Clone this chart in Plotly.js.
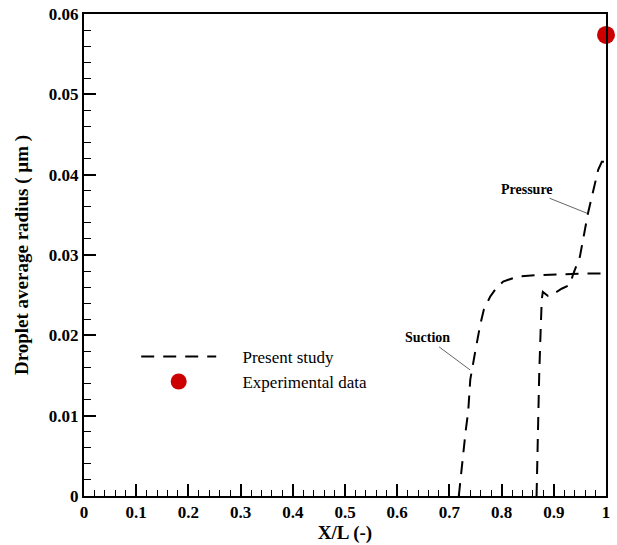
<!DOCTYPE html>
<html>
<head>
<meta charset="utf-8">
<script src="https://cdn.plot.ly/plotly-3.0.1.min.js"></script>
<style>html,body{margin:0;padding:0;background:#fff;}#chart{width:617px;height:545px;}</style>
</head>
<body>
<div id="chart"></div>
<script>
// Suction side curve
const suctionX = [0.718, 0.724, 0.731, 0.736, 0.740, 0.749, 0.759, 0.766, 0.778, 0.790, 0.803, 0.830, 0.870, 0.920, 0.960, 1.000];
const suctionY = [0.0, 0.004, 0.008, 0.0105, 0.0145, 0.0178, 0.0213, 0.0232, 0.0248, 0.0259, 0.0267, 0.0273, 0.0275, 0.0276, 0.0277, 0.0277];
// Pressure side curve
const pressureX = [0.867, 0.869, 0.872, 0.875, 0.877, 0.879, 0.884, 0.889, 0.895, 0.902, 0.915, 0.931, 0.937, 0.950, 0.9655, 0.985, 0.992, 1.000];
const pressureY = [0.0, 0.008, 0.015, 0.021, 0.0245, 0.0254, 0.0251, 0.0249, 0.0250, 0.0253, 0.0258, 0.0263, 0.0276, 0.0298, 0.0352, 0.0406, 0.0416, 0.0416];
// Experimental data
const expX = [1.0];
const expY = [0.0574];

const seriesNames = ["Present study", "Experimental data"];
const labels = {suction: "Suction", pressure: "Pressure"};

const serif = "Liberation Serif, Times New Roman, serif";
const pad = "\u00a0\u00a0\u00a0\u00a0\u00a0";
const lineStyle = {color: "#000", width: 2, dash: "13px,9px"};

const traces = [
  {x: suctionX, y: suctionY, mode: "lines", line: lineStyle, name: pad + seriesNames[0], showlegend: true, hoverinfo: "skip"},
  {x: pressureX, y: pressureY, mode: "lines", line: lineStyle, name: seriesNames[0], showlegend: false, hoverinfo: "skip"},
  {x: expX, y: expY, mode: "markers", marker: {color: "#cc0000", size: 18, symbol: "circle"}, name: pad + seriesNames[1], showlegend: true, cliponaxis: false}
];

const axisCommon = {
  showline: true, linecolor: "#000", linewidth: 2, mirror: true,
  ticks: "inside", ticklen: 12, tickwidth: 2, tickcolor: "#000",
  showgrid: false, zeroline: false,
  tickfont: {family: serif, size: 17, color: "#000", weight: "bold"}
};

const layout = {
  width: 617, height: 545,
  margin: {l: 84, r: 11, t: 14, b: 49},
  paper_bgcolor: "#fff", plot_bgcolor: "#fff",
  font: {family: serif, color: "#000"},
  xaxis: Object.assign({}, axisCommon, {
    range: [0, 1], dtick: 0.1, tick0: 0,
    minor: {ticks: "inside", ticklen: 6, tickwidth: 1, dtick: 0.02, tickcolor: "#000"},
    title: {text: "X/L (-)", font: {family: serif, size: 19, color: "#000", weight: "bold"}, standoff: 2}
  }),
  yaxis: Object.assign({}, axisCommon, {
    range: [0, 0.06], dtick: 0.01, tick0: 0,
    minor: {ticks: "inside", ticklen: 7, tickwidth: 1, dtick: 0.002, tickcolor: "#000"},
    title: {text: "Droplet average radius ( \u00b5m )", font: {family: serif, size: 19, color: "#000", weight: "bold"}, standoff: 15}
  }),
  showlegend: true,
  legend: {
    x: 0.1, y: 0.326, xanchor: "left", yanchor: "top",
    bgcolor: "rgba(0,0,0,0)", itemwidth: 75,
    font: {family: serif, size: 17, color: "#000"},
    tracegroupgap: 0
  },
  annotations: [
    {x: 0.7395, y: 0.0157, xref: "x", yref: "y", text: labels.suction, showarrow: true, arrowhead: 0, arrowwidth: 1, arrowcolor: "#666",
     ax: -43, ay: -32, font: {family: serif, size: 14, color: "#000", weight: "bold"}},
    {x: 0.9636, y: 0.0352, xref: "x", yref: "y", text: labels.pressure, showarrow: true, arrowhead: 0, arrowwidth: 1, arrowcolor: "#666",
     ax: -60, ay: -24, font: {family: serif, size: 14, color: "#000", weight: "bold"}}
  ]
};

Plotly.newPlot("chart", traces, layout, {displayModeBar: false, staticPlot: true});
</script>
</body>
</html>
